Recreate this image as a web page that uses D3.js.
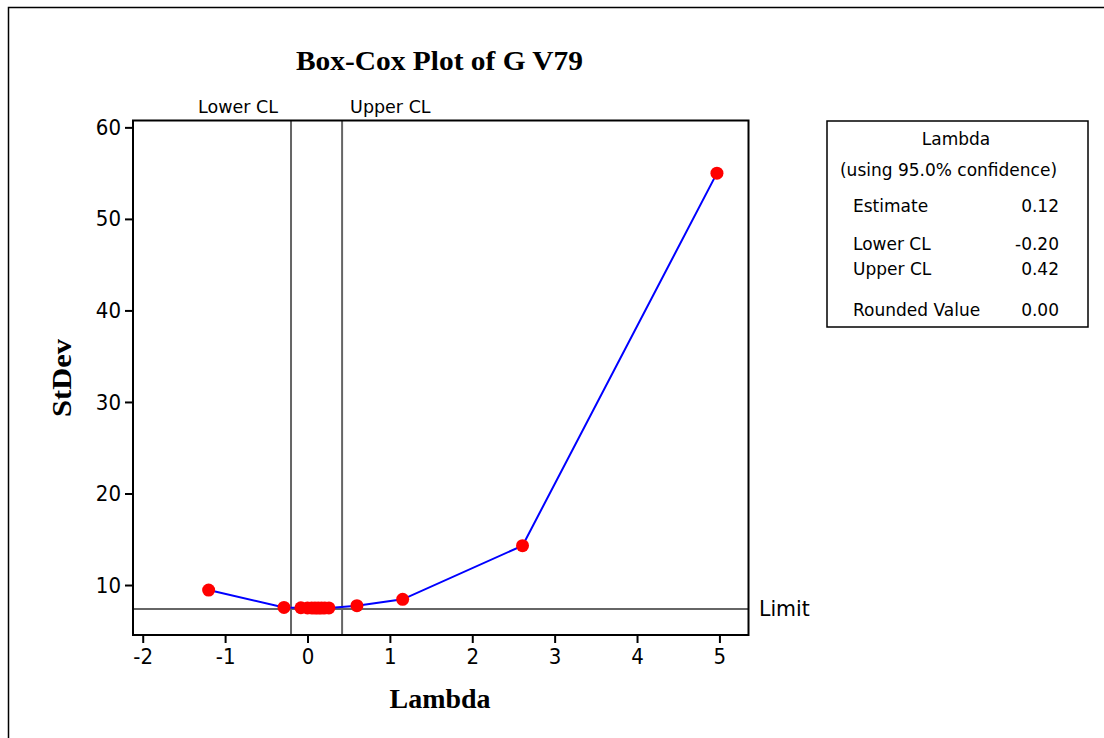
<!DOCTYPE html>
<html>
<head>
<meta charset="utf-8">
<script src="https://cdn.jsdelivr.net/npm/d3@7"></script>
<style>
  html, body { margin: 0; padding: 0; background: #fff; }
  svg { display: block; }
</style>
</head>
<body>
<svg id="chart" width="1104" height="738"></svg>
<script>
// Box-Cox profile: standard deviation of transformed data at each lambda
const lambdas = [-1.20, -0.285, -0.08, 0.0, 0.05, 0.09, 0.13, 0.17, 0.21, 0.26, 0.60, 1.155, 2.61, 4.97];
const stdevs  = [9.45, 7.55, 7.52, 7.50, 7.49, 7.48, 7.48, 7.48, 7.49, 7.50, 7.74, 8.44, 14.3, 55.0];

const xTicks = [-2, -1, 0, 1, 2, 3, 4, 5];
const yTicks = [10, 20, 30, 40, 50, 60];

const lowerCL = -0.20;
const upperCL = 0.42;
const limitValue = 7.38;

const summaryRows = [
  ["Estimate", "0.12"],
  ["Lower CL", "-0.20"],
  ["Upper CL", "0.42"],
  ["Rounded Value", "0.00"]
];

const svg = d3.select("#chart");
const plot = { left: 133, right: 748.5, top: 120.5, bottom: 635 };

const x = d3.scaleLinear().domain([-2.118, 5.353]).range([plot.left, plot.right]);
const y = d3.scaleLinear().domain([4.54, 60.75]).range([plot.bottom, plot.top]);

const tickFont = "'DejaVu Sans Condensed', 'DejaVu Sans', sans-serif";
const textFont = "'DejaVu Sans', sans-serif";
const serif = "'Liberation Serif', serif";

// outer page frame
svg.append("rect")
  .attr("x", 8.5).attr("y", 7.5).attr("width", 1200).attr("height", 800)
  .attr("fill", "none").attr("stroke", "#000").attr("stroke-width", 1.5);

// title
svg.append("text")
  .attr("x", 439.5).attr("y", 70)
  .attr("text-anchor", "middle")
  .attr("font-family", serif)
  .attr("font-weight", "bold")
  .attr("font-size", 28)
  .attr("textLength", 287).attr("lengthAdjust", "spacingAndGlyphs")
  .text("Box-Cox Plot of G V79");

// axes
const fmt = d => String(d);
const xAxis = d3.axisBottom(x).tickValues(xTicks).tickSize(8).tickPadding(5).tickFormat(fmt);
const yAxis = d3.axisLeft(y).tickValues(yTicks).tickSize(8).tickPadding(4).tickFormat(fmt);

const gx = svg.append("g").attr("transform", `translate(0,${plot.bottom})`).call(xAxis);
const gy = svg.append("g").attr("transform", `translate(${plot.left},0)`).call(yAxis);
[gx, gy].forEach(g => {
  g.select(".domain").remove();
  g.selectAll(".tick line").attr("stroke", "#000").attr("stroke-width", 2);
  g.selectAll(".tick text")
    .attr("fill", "#000")
    .attr("font-family", tickFont)
    .attr("font-size", 22);
});

// axis titles
svg.append("text")
  .attr("x", 440).attr("y", 708)
  .attr("text-anchor", "middle")
  .attr("font-family", serif)
  .attr("font-weight", "bold").attr("font-size", 28)
  .attr("textLength", 101).attr("lengthAdjust", "spacingAndGlyphs")
  .text("Lambda");

svg.append("text")
  .attr("transform", "translate(71,378) rotate(-90)")
  .attr("text-anchor", "middle")
  .attr("font-family", serif)
  .attr("font-weight", "bold").attr("font-size", 28)
  .attr("textLength", 78).attr("lengthAdjust", "spacingAndGlyphs")
  .text("StDev");

// confidence limit lines
const clGroup = svg.append("g");
[[lowerCL, "Lower CL"], [upperCL, "Upper CL"]].forEach(([v, label], i) => {
  clGroup.append("line")
    .attr("x1", x(v)).attr("x2", x(v))
    .attr("y1", plot.top).attr("y2", plot.bottom)
    .attr("stroke", "#666").attr("stroke-width", 2);
  clGroup.append("text")
    .attr("x", x(v) + (i === 0 ? -13 : 8))
    .attr("y", 113)
    .attr("text-anchor", i === 0 ? "end" : "start")
    .attr("font-family", textFont)
    .attr("font-size", 17.5)
    .text(label);
});

// limit line
svg.append("line")
  .attr("x1", plot.left).attr("x2", plot.right)
  .attr("y1", y(limitValue)).attr("y2", y(limitValue))
  .attr("stroke", "#666").attr("stroke-width", 2);
svg.append("text")
  .attr("x", 759).attr("y", y(limitValue) + 7)
  .attr("font-family", textFont).attr("font-size", 20.5)
  .text("Limit");

// profile curve
const line = d3.line().x((d, i) => x(lambdas[i])).y(d => y(d));
svg.append("path")
  .datum(stdevs)
  .attr("d", line)
  .attr("fill", "none").attr("stroke", "#0000ff").attr("stroke-width", 2);

svg.append("g").selectAll("circle")
  .data(stdevs)
  .join("circle")
  .attr("cx", (d, i) => x(lambdas[i]))
  .attr("cy", d => y(d))
  .attr("r", 6.5)
  .attr("fill", "#ff0000");

// plot frame
svg.append("rect")
  .attr("x", plot.left).attr("y", plot.top)
  .attr("width", plot.right - plot.left).attr("height", plot.bottom - plot.top)
  .attr("fill", "none").attr("stroke", "#000").attr("stroke-width", 2);

// summary table
const box = { left: 827, top: 121, right: 1088, bottom: 327 };
svg.append("rect")
  .attr("x", box.left).attr("y", box.top)
  .attr("width", box.right - box.left).attr("height", box.bottom - box.top)
  .attr("fill", "#fff").attr("stroke", "#000").attr("stroke-width", 1.5);

const tbl = svg.append("g")
  .attr("font-family", textFont).attr("font-size", 17).attr("fill", "#000");
tbl.append("text").attr("x", 956).attr("y", 145)
  .attr("text-anchor", "middle").text("Lambda");
tbl.append("text").attr("x", 948.5).attr("y", 176)
  .attr("text-anchor", "middle").text("(using 95.0% confidence)");
const rowY = [212, 250, 275, 316];
summaryRows.forEach(([label, val], i) => {
  tbl.append("text").attr("x", 853).attr("y", rowY[i]).text(label);
  tbl.append("text").attr("x", 1059).attr("y", rowY[i]).attr("text-anchor", "end").text(val);
});
</script>
</body>
</html>
